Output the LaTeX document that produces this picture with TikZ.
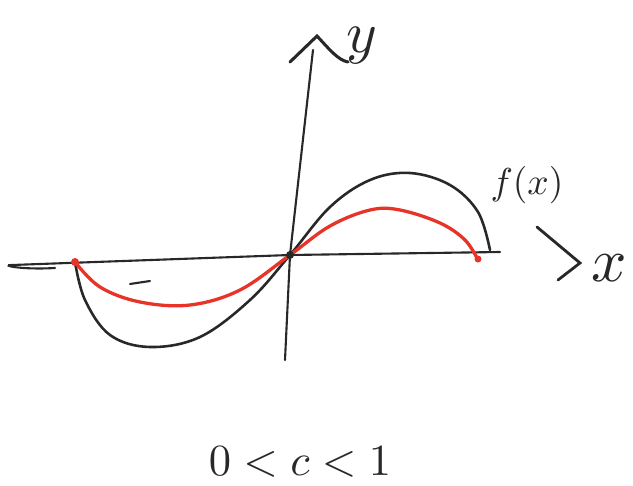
\documentclass[tikz,border=0pt]{standalone}
\usepackage{xcolor}
\usetikzlibrary{arrows.meta, positioning, calc}
\definecolor{penred}{RGB}{232,52,40}
\definecolor{penblack}{RGB}{40,40,40}

\begin{document}
\begin{tikzpicture}[x=0.3mm, y=-0.3mm,
    axisline/.style={draw=penblack, line width=1.8pt, line cap=round},
    curveblack/.style={draw=penblack, line width=2.2pt, line cap=round},
    curvered/.style={draw=penred, line width=2.8pt, line cap=round},
    handtext/.style={text=penblack, inner sep=0pt}]
    \useasboundingbox (0,0) rectangle (633,486);
    % axes
    \coordinate (o) at (290,255);
    \coordinate (xl) at (12,265);
    \coordinate (xr) at (500,252);
    \coordinate (yb) at (285,360);
    \coordinate (yt) at (313,50);
    \draw[axisline] (55,268) .. controls (20,270) and (0,265) .. (xl) -- (o) -- (xr);
    \draw[axisline] (yb) -- (o) -- (yt);
    \draw[axisline, line width=2.6pt] (290,62) -- (317,36) .. controls (330,50) and (338,60) .. (348,62);
    \draw[axisline] (130,284) -- (150,281);
    % f(x), c = 1
    \draw[curveblack] plot[smooth, tension=0.6] coordinates {
        (75,262) (85,300) (110,335) (150,347) (200,337) (250,300) (290,255)
        (330,207) (370,180) (410,173) (450,185) (478,212) (490,250)};
    % c f(x)
    \draw[curvered] plot[smooth, tension=0.6] coordinates {
        (75,262) (100,287) (140,302) (190,305) (240,290) (290,255)
        (330,226) (370,210) (400,210) (440,223) (465,240) (478,260)};
    \fill[penred] (75,262) circle (4);
    \fill[penred] (478,259) circle (3.5);
    \fill[penblack] (o) circle (4);
    % labels
    \node[handtext, scale=5] (ylab) at (362,46) {$y$};
    \node[handtext, scale=3.2] (flab) at (527,185) {$f(x)$};
    \draw[axisline, line width=2.4pt] (537,227) -- (580,263) -- (558,280);
    \node[handtext, scale=5.3] (xlab) at (609,268) {$x$};
    \node[handtext, scale=3.8] (clab) at (300,462) {$0<c<1$};
\end{tikzpicture}
\end{document}
